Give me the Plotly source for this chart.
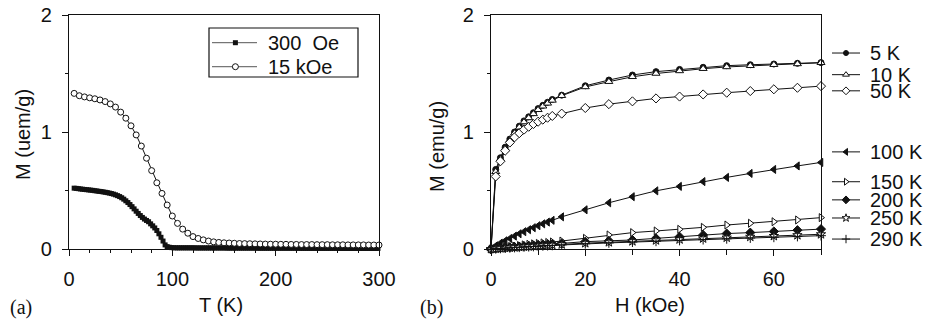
import plotly.graph_objects as go

# ---------------- data: panel (a) ----------------
T_300Oe = list(range(5, 300, 2))
M_300Oe = [
    0.520, 0.518, 0.516, 0.513, 0.511, 0.509, 0.507, 0.505, 0.503, 0.501,
    0.498, 0.496, 0.493, 0.491, 0.488, 0.485, 0.482, 0.478, 0.474, 0.469,
    0.463, 0.456, 0.448, 0.438, 0.426, 0.412, 0.397, 0.380, 0.362, 0.343,
    0.323, 0.304, 0.286, 0.270, 0.256, 0.244, 0.233, 0.215, 0.198, 0.180,
    0.158, 0.130, 0.100, 0.068, 0.035, 0.020, 0.015, 0.012, 0.011,
    0.010, 0.010, 0.010, 0.010, 0.010, 0.010, 0.010, 0.010, 0.010, 0.010,
    0.009, 0.009, 0.009, 0.009, 0.009, 0.009, 0.009, 0.009, 0.009, 0.009,
    0.009, 0.009, 0.009, 0.009, 0.009, 0.008, 0.008, 0.008, 0.008, 0.008,
    0.008, 0.008, 0.008, 0.008, 0.008, 0.008, 0.008, 0.008, 0.008, 0.008,
    0.007, 0.007, 0.007, 0.007, 0.007, 0.007, 0.007, 0.007, 0.007, 0.007,
    0.007, 0.007, 0.007, 0.007, 0.007, 0.007, 0.007, 0.007, 0.007, 0.007,
    0.006, 0.006, 0.006, 0.006, 0.006, 0.006, 0.006, 0.006, 0.006, 0.006,
    0.006, 0.006, 0.006, 0.006, 0.006, 0.006, 0.006, 0.006, 0.006, 0.006,
    0.005, 0.005, 0.005, 0.005, 0.005, 0.005, 0.005, 0.005, 0.005, 0.005,
    0.005, 0.005, 0.005, 0.005, 0.005, 0.005, 0.005, 0.005, 0.005,
]
T_15kOe = list(range(5, 301, 5))
M_15kOe = [
    1.330, 1.310, 1.300, 1.292, 1.284, 1.274, 1.260, 1.240, 1.213, 1.170,
    1.118, 1.053, 0.975, 0.880, 0.776, 0.670, 0.566, 0.475, 0.376, 0.282,
    0.219, 0.170, 0.135, 0.106, 0.090, 0.078, 0.068, 0.061, 0.056, 0.053,
    0.051, 0.049, 0.047, 0.046, 0.045, 0.044, 0.043, 0.042, 0.041, 0.041,
    0.040, 0.040, 0.039, 0.039, 0.038, 0.038, 0.038, 0.037, 0.037, 0.037,
    0.036, 0.036, 0.036, 0.035, 0.035, 0.035, 0.035, 0.034, 0.034, 0.034,
]
legend_a = ["300\u00a0\u00a0Oe", "15 kOe"]

# ---------------- data: panel (b) ----------------
H_kOe = [0, 1, 2, 3, 4, 5, 6, 7, 8, 9, 10, 11, 12, 13,
         15, 20, 25, 30, 35, 40, 45, 50, 55, 60, 65, 70]
series_b = ["5 K", "10 K", "50 K", "100 K", "150 K", "200 K", "250 K", "290 K"]
M_5K = [0, 0.68, 0.78, 0.87, 0.94, 1.00, 1.05, 1.095, 1.13, 1.165, 1.20, 1.228, 1.254, 1.278,
        1.315, 1.395, 1.444, 1.487, 1.516, 1.535, 1.553, 1.567, 1.575, 1.581, 1.587, 1.593]
M_10K = [0, 0.66, 0.77, 0.86, 0.93, 0.99, 1.04, 1.085, 1.12, 1.155, 1.19, 1.22, 1.245, 1.27,
         1.31, 1.385, 1.43, 1.472, 1.50, 1.522, 1.541, 1.556, 1.566, 1.575, 1.582, 1.592]
M_50K = [0, 0.62, 0.75, 0.84, 0.91, 0.955, 0.99, 1.02, 1.045, 1.068, 1.088, 1.106, 1.122, 1.137,
         1.157, 1.205, 1.238, 1.262, 1.287, 1.303, 1.321, 1.336, 1.350, 1.365, 1.378, 1.392]
M_100K = [0, 0.027, 0.05, 0.07, 0.09, 0.11, 0.13, 0.148, 0.165, 0.182, 0.199, 0.215, 0.23, 0.245,
          0.275, 0.335, 0.395, 0.447, 0.497, 0.535, 0.576, 0.612, 0.646, 0.68, 0.71, 0.74]
M_150K = [0, 0.005, 0.01, 0.015, 0.02, 0.025, 0.03, 0.035, 0.04, 0.044, 0.048, 0.052, 0.056, 0.06,
          0.068, 0.091, 0.12, 0.14, 0.154, 0.168, 0.185, 0.205, 0.22, 0.233, 0.248, 0.268]
M_200K = [0, 0.004, 0.007, 0.011, 0.014, 0.017, 0.021, 0.024, 0.027, 0.03, 0.033, 0.036, 0.039, 0.042,
          0.047, 0.063, 0.07, 0.077, 0.091, 0.105, 0.12, 0.132, 0.14, 0.15, 0.161, 0.17]
M_250K = [0, 0.003, 0.006, 0.009, 0.012, 0.014, 0.017, 0.02, 0.022, 0.025, 0.027, 0.03, 0.032, 0.035,
          0.039, 0.05, 0.058, 0.066, 0.074, 0.082, 0.09, 0.097, 0.104, 0.111, 0.118, 0.126]
M_290K = [0, 0.003, 0.005, 0.008, 0.01, 0.013, 0.015, 0.018, 0.02, 0.022, 0.025, 0.027, 0.029, 0.031,
          0.035, 0.045, 0.052, 0.059, 0.066, 0.073, 0.08, 0.087, 0.094, 0.1, 0.107, 0.114]
M_b = [M_5K, M_10K, M_50K, M_100K, M_150K, M_200K, M_250K, M_290K]

# ---------------- styles / layout positions ----------------
W, Hh = 928, 322
FONT = "Liberation Sans, Arial, Helvetica, sans-serif"
SERIF = "Liberation Serif, Times New Roman, serif"
FS = 20
BLACK = "#111111"


def px_x(p):
    return p / W


def px_y(p):
    return 1 - p / Hh


ydom = [px_y(249), px_y(15)]
xdom_a = [px_x(69), px_x(379)]
xdom_b = [px_x(491), px_x(821)]
xdom_leg_b = [px_x(832), px_x(860)]
xdom_leg_a = [px_x(212), px_x(257)]
ydom_leg_a = [px_y(77), px_y(28)]

# legend rows: panel (b) in M units (y3 scale), panel (a) in 0..1 box units (y4 scale)
leg_b_pos = [1.675, 1.49, 1.352, 0.83, 0.575, 0.42, 0.265, 0.085]
leg_a_pos = [0.70, 0.21]

# marker styles (symbol, fill, size)
sym_b = ["circle", "triangle-up", "diamond", "triangle-left",
         "triangle-right", "diamond", "star", "cross-thin"]
fill_b = [BLACK, "white", "white", BLACK, "white", BLACK, "white", BLACK]
size_b = [6, 7, 7, 7, 7, 7, 7, 7]

fig = go.Figure()

# panel (a)
style_a = [
    dict(symbol="square", size=5, color=BLACK),
    dict(symbol="circle", size=6, color="white", line=dict(color=BLACK, width=1)),
]
for x, y, st in zip([T_300Oe, T_15kOe], [M_300Oe, M_15kOe], style_a):
    fig.add_trace(go.Scatter(
        x=x, y=y, mode="lines+markers", showlegend=False,
        line=dict(color=BLACK, width=1), marker=st,
        xaxis="x", yaxis="y", cliponaxis=False))

# panel (b)
for m, s, f, sz in zip(M_b, sym_b, fill_b, size_b):
    fig.add_trace(go.Scatter(
        x=H_kOe, y=m, mode="lines+markers", showlegend=False,
        line=dict(color=BLACK, width=1),
        marker=dict(symbol=s, size=sz, color=f, line=dict(color=BLACK, width=1)),
        xaxis="x2", yaxis="y2", cliponaxis=False))

# legend samples for panel (b)
for s, f, sz, yp in zip(sym_b, fill_b, size_b, leg_b_pos):
    fig.add_trace(go.Scatter(
        x=[0, 1], y=[yp, yp], mode="lines", showlegend=False,
        line=dict(color=BLACK, width=1), xaxis="x3", yaxis="y3", hoverinfo="skip"))
    fig.add_trace(go.Scatter(
        x=[0.5], y=[yp], mode="markers", showlegend=False,
        marker=dict(symbol=s, size=sz - 1, color=f, line=dict(color=BLACK, width=1)),
        xaxis="x3", yaxis="y3", hoverinfo="skip", cliponaxis=False))

# legend samples for panel (a)
for st, yp in zip(style_a, leg_a_pos):
    fig.add_trace(go.Scatter(
        x=[0, 1], y=[yp, yp], mode="lines", showlegend=False,
        line=dict(color="#555555", width=1), xaxis="x4", yaxis="y4", hoverinfo="skip"))
    fig.add_trace(go.Scatter(
        x=[0.52], y=[yp], mode="markers", showlegend=False, marker=st,
        xaxis="x4", yaxis="y4", hoverinfo="skip", cliponaxis=False))

axis_common = dict(showline=True, linecolor=BLACK, linewidth=1.3, mirror=True,
                   showgrid=False, zeroline=False, ticks="outside", ticklen=6,
                   tickwidth=1.2, tickcolor=BLACK, automargin=False,
                   tickfont=dict(family=FONT, size=FS, color=BLACK))
hidden = dict(visible=False, automargin=False, fixedrange=True)

fig.update_layout(
    width=W, height=Hh, margin=dict(l=0, r=0, t=0, b=0, autoexpand=False),
    paper_bgcolor="white", plot_bgcolor="rgba(0,0,0,0)",
    font=dict(family=FONT, size=FS, color=BLACK),
    showlegend=False,
    xaxis=dict(domain=xdom_a, range=[0, 300], tickvals=[0, 100, 200, 300],
               minor=dict(dtick=20, ticks="outside", ticklen=3, tickcolor=BLACK),
               anchor="y", ticklabelstandoff=6, **axis_common),
    yaxis=dict(domain=ydom, range=[0, 2], tickvals=[0, 1, 2],
               minor=dict(dtick=0.5, ticks="outside", ticklen=3, tickcolor=BLACK),
               anchor="x", ticklabelstandoff=6, **axis_common),
    xaxis2=dict(domain=xdom_b, range=[0, 70], tickvals=[0, 20, 40, 60],
                minor=dict(dtick=10, ticks="outside", ticklen=5, tickcolor=BLACK),
                anchor="y2", ticklabelstandoff=6, **axis_common),
    yaxis2=dict(domain=ydom, range=[0, 2], tickvals=[0, 1, 2],
                minor=dict(dtick=0.5, ticks="outside", ticklen=3, tickcolor=BLACK),
                anchor="x2", ticklabelstandoff=6, **axis_common),
    xaxis3=dict(domain=xdom_leg_b, range=[0, 1], anchor="y3", **hidden),
    yaxis3=dict(domain=ydom, range=[0, 2], anchor="x3", **hidden),
    xaxis4=dict(domain=xdom_leg_a, range=[0, 1], anchor="y4", **hidden),
    yaxis4=dict(domain=ydom_leg_a, range=[0, 1], anchor="x4", **hidden),
)

shapes = [dict(type="rect", xref="paper", yref="paper",
               x0=px_x(209), x1=px_x(358), y0=px_y(77), y1=px_y(28),
               line=dict(color=BLACK, width=1.2), fillcolor="rgba(0,0,0,0)", layer="above")]
fig.update_layout(shapes=shapes)


def label(text, xp, yp, family=FONT, angle=0):
    return dict(text=text, x=px_x(xp), y=px_y(yp), xref="paper", yref="paper",
                xanchor="center", yanchor="middle", textangle=angle, showarrow=False,
                font=dict(family=family, size=FS, color=BLACK))


annotations = [
    label("T (K)", 221, 305),
    label("H (kOe)", 650, 305),
    label("M (uem/g)", 23, 135, angle=-90),
    label("M (emu/g)", 437, 147, angle=-90),
    label("(a)", 21, 307, family=SERIF),
    label("(b)", 431, 307, family=SERIF),
]
for name, yp in zip(series_b, leg_b_pos):
    annotations.append(dict(text=name, x=px_x(868), y=yp, xref="paper", yref="y3",
                            xanchor="left", yanchor="middle", showarrow=False,
                            font=dict(family=FONT, size=FS, color=BLACK)))
for name, yp in zip(legend_a, leg_a_pos):
    annotations.append(dict(text=name, x=px_x(266), y=yp, xref="paper", yref="y4",
                            xanchor="left", yanchor="middle", showarrow=False,
                            font=dict(family=FONT, size=FS, color=BLACK)))
fig.update_layout(annotations=annotations)

fig.write_html("out.html")
